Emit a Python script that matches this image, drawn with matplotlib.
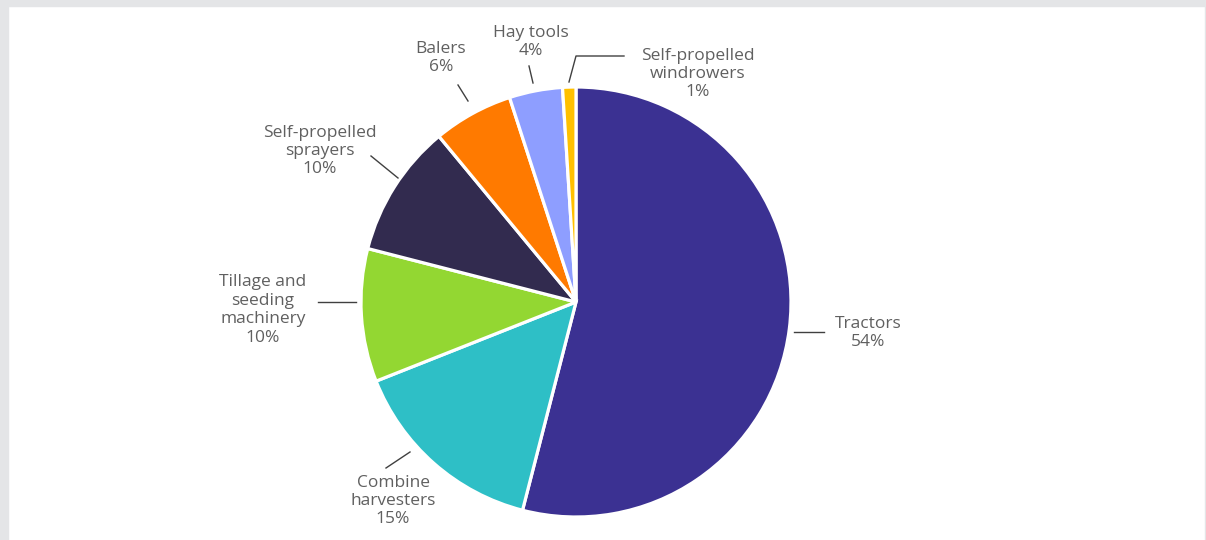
import matplotlib.pyplot as plt
from matplotlib.patches import Rectangle

W, H = 1206, 540

categories = ['Tractors', 'Combine\nharvesters', 'Tillage and\nseeding\nmachinery',
              'Self-propelled\nsprayers', 'Balers', 'Hay tools',
              'Self-propelled\nwindrowers']
shares = [54, 15, 10, 10, 6, 4, 1]
colors = ['#3b3192', '#2ebfc6', '#93d732', '#322b4f', '#ff7a00', '#8e9eff', '#ffc000']

# label centres and leader lines, in pixel space (y measured from the top)
label_xy = [(868, 333), (393, 501), (263, 310), (320, 151), (441, 58), (531, 42), (698, 74)]
leaders = [
    [(794, 332), (824, 332)],
    [(410, 452), (386, 468)],
    [(356, 302), (318, 302)],
    [(398, 178), (371, 156)],
    [(468, 101), (458, 85)],
    [(533, 83), (529, 66)],
    [(569, 82), (576, 56), (624, 56)],
]

plt.rcParams['font.family'] = ['Open Sans', 'DejaVu Sans']

fig = plt.figure(figsize=(W / 100, H / 100), dpi=100)
fig.patch.set_facecolor('white')

# grey frame on the top and left
fig.patches.append(Rectangle((0, 1 - 6 / H), 1, 6 / H, transform=fig.transFigure,
                             color='#e4e5e7', zorder=0))
fig.patches.append(Rectangle((0, 0), 8 / W, 1, transform=fig.transFigure,
                             color='#e4e5e7', zorder=0))
fig.patches.append(Rectangle((1 - 1.5 / W, 0), 1.5 / W, 1, transform=fig.transFigure,
                             color='#e4e5e7', zorder=0))

ax = fig.add_axes([0, 0, 1, 1])
ax.pie(shares, colors=colors, startangle=90, counterclock=False,
       center=(576, H - 302), radius=215,
       wedgeprops=dict(edgecolor='white', linewidth=2.3))
ax.set_xlim(0, W)
ax.set_ylim(0, H)
ax.set_aspect('auto')
ax.axis('off')

for name, val, (x, y) in zip(categories, shares, label_xy):
    ax.text(x, H - y, f'{name}\n{val}%', ha='center', va='center',
            fontsize=12.5, color='#606060', linespacing=1.2)

for pts in leaders:
    xs = [p[0] for p in pts]
    ys = [H - p[1] for p in pts]
    ax.plot(xs, ys, color='#404040', linewidth=1.0)

fig.savefig('out.png', dpi=100)
